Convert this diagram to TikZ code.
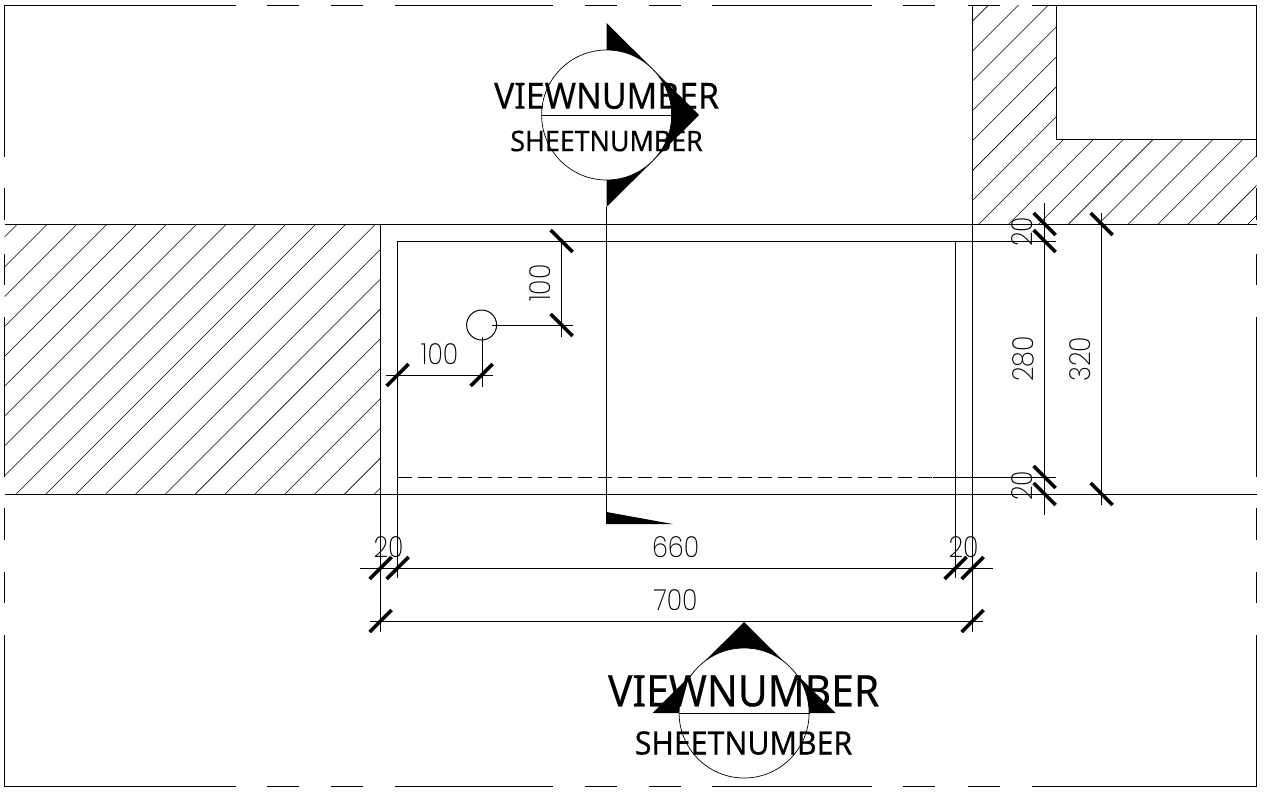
\documentclass[tikz,border=0pt]{standalone}
\usepackage{fontspec}
\setmainfont{Noto Sans}
\newfontfamily\thinf[FakeStretch=0.88]{Poppins ExtraLight}
\newfontfamily\capf[FakeStretch=0.94,FakeBold=0.3]{Noto Sans}
\tikzset{
  wall/.style={line width=1pt,black},
  hatchline/.style={line width=0.55pt,black},
  tickmark/.style={line width=3.4pt,black},
  dimlabel/.style={inner sep=0pt,font=\thinf\fontsize{29}{29}\selectfont},
  bigword/.style={inner sep=0pt,text=black}
}
\newcommand{\tickB}[2]{\draw[tickmark] (#1-11,#2-11) -- (#1+11,#2+11);}
\newcommand{\tickF}[2]{\draw[tickmark] (#1-11,#2+11) -- (#1+11,#2-11);}
\begin{document}
\begin{tikzpicture}[x=1pt,y=-1pt]
\useasboundingbox (0,0) rectangle (1265,795);
\begin{scope}[shift={(-0.4,0)}]
% hatching
\begin{scope}
\clip (5,224) rectangle (381,494);
\foreach \k in {0,...,22}{\pgfmathsetmacro{\c}{242+29.85*\k}\draw[hatchline] (\c,0) -- (0,\c);}
\end{scope}
\begin{scope}
\clip (973,5) -- (1057,5) -- (1057,139) -- (1257,139) -- (1257,224) -- (973,224) -- cycle;
\foreach \k in {0,...,17}{\pgfmathsetmacro{\c}{994+29.9*\k}\draw[hatchline] (\c,0) -- (0,\c);}
\end{scope}
% border, broken
\foreach \a/\b in {5/236,267/299,331/363,395/553,585/617,649/681,712/872,903/935,968/1000,1032/1257}{
  \draw[wall] (\a,5) -- (\b,5);
  \draw[wall] (\a,786.7) -- (\b,786.7);
}
\foreach \a/\b in {5/157,188/220,254/285,317/477,508/540,572/603,635/787}{
  \draw[wall] (5,\a) -- (5,\b);
  \draw[wall] (1257,\a) -- (1257,\b);
}
% walls
\draw[wall] (5,224) -- (1257,224);
\draw[wall] (5,494) -- (1257,494);
\draw[wall] (381,224) -- (381,632);
\draw[wall] (398,241) -- (398,578);
\draw[wall] (956,241) -- (956,578);
\draw[wall] (973,5) -- (973,632);
\draw[wall] (398,241) -- (1056,241);
\draw[wall,dash pattern=on 14pt off 6pt] (398,477) -- (933,477);
\draw[wall] (933,477) -- (1056,477);
\draw[wall] (1057,5) -- (1057,139) -- (1257,139);
% dimensions
\draw[wall] (1045,203) -- (1045,515);
\draw[wall] (1102,213) -- (1102,505);
\draw[wall] (360,568) -- (993,568);
\draw[wall] (370,621) -- (983,621);
\draw[wall] (386,375) -- (493,375);
\draw[wall] (483,337) -- (483,387);
\draw[wall] (492,325) -- (573,325);
\draw[wall] (562,241) -- (562,337);
\draw[wall] (482,325) circle (15);
\tickB{1045}{224}\tickB{1045}{241}\tickB{1045}{477}\tickB{1045}{494}
\tickB{1102}{224}\tickB{1102}{494}
\tickB{562}{241}\tickB{562}{325}
\tickF{398}{375}\tickF{482}{375}
\tickF{381}{568}\tickF{398}{568}\tickF{956}{568}\tickF{973}{568}
\tickF{381}{621}\tickF{973}{621}
% dimension labels
\node[dimlabel] (d100h) at (440,354) {100};
\node[dimlabel,rotate=90] (d100v) at (541,283) {100};
\node[dimlabel,rotate=90] (d20a) at (1023,232) {20};
\node[dimlabel,rotate=90] (d280) at (1024,359) {280};
\node[dimlabel,rotate=90] (d320) at (1081,359) {320};
\node[dimlabel,rotate=90] (d20b) at (1023,486) {20};
\node[dimlabel] (d20c) at (389,547) {20};
\node[dimlabel] (d20d) at (964,547) {20};
\node[dimlabel] (d660) at (676,547) {660};
\node[dimlabel] (d700) at (676,600) {700};
% section arrow 1
\draw[wall] (607,207) -- (607,524);
\fill (607,512) -- (673,524) -- (607,524) -- cycle;
\fill (607,23) -- (699.5,115) -- (607,207) -- cycle;
\draw[line width=0.7pt,fill=white] (607,115) circle (65);
\draw[wall] (542,115) -- (672,115);
\node[bigword,font=\capf\fontsize{36}{36}\selectfont] (v1) at (607,96) {VIEWNUMBER};
\node[bigword,font=\capf\fontsize{28.5}{28.5}\selectfont] (s1) at (607,141) {SHEETNUMBER};
% section arrow 2
\fill (744.5,622) -- (836,713) -- (653,713) -- cycle;
\draw[line width=0.7pt,fill=white] (744.5,713) circle (65);
\draw[wall] (679,713) -- (810,713);
\node[bigword,font=\capf\fontsize{43.4}{43.4}\selectfont] (v2) at (744,691) {VIEWNUMBER};
\node[bigword,font=\capf\fontsize{32.2}{32.2}\selectfont] (s2) at (744,743) {SHEETNUMBER};
\end{scope}
\end{tikzpicture}
\end{document}
